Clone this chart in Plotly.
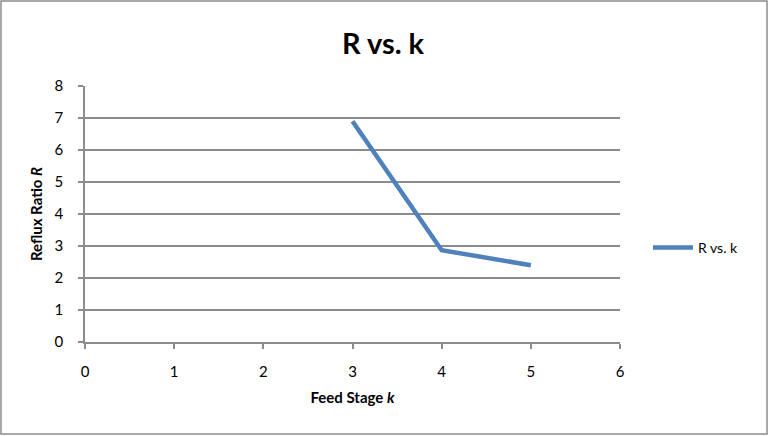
import plotly.graph_objects as go

feed_stage = [3, 4, 5]
reflux_ratio = [6.9, 2.87, 2.4]
series_name = "R vs. k"

W, H = 769, 436
ml, mr, mt, mb = 85, 149, 86, 94
pw, ph = W - ml - mr, H - mt - mb

font = "Lato, 'Open Sans', sans-serif"
grid = "#8c8c8c"

fig = go.Figure()
fig.add_trace(go.Scatter(
    x=feed_stage, y=reflux_ratio, mode="lines", name=series_name,
    line=dict(color="#4F81BD", width=4.5),
))

fig.update_layout(
    width=W, height=H,
    margin=dict(l=ml, r=mr, t=mt, b=mb),
    paper_bgcolor="white", plot_bgcolor="white",
    font=dict(family=font, size=15, color="black"),
    title=dict(text="<b>R vs. k</b>", x=(383) / W, xanchor="center",
               y=1 - 44 / H, yanchor="middle",
               font=dict(size=29, family=font)),
    showlegend=True,
    legend=dict(x=1 + (648 - 620) / pw, y=1 - (248 - mt) / ph, xanchor="left", yanchor="middle",
                font=dict(size=14), bgcolor="rgba(0,0,0,0)", itemwidth=40),
    xaxis=dict(range=[0, 6], dtick=1, tick0=0, showgrid=False, zeroline=False,
               showline=True, linecolor=grid, linewidth=1.5,
               ticks="outside", ticklen=5, tickcolor=grid, tickwidth=1.5,
               ticklabelstandoff=10,
               title=dict(text="<b>Feed Stage <i>k</i></b>", font=dict(size=15), standoff=14),
               tickfont=dict(size=15)),
    yaxis=dict(range=[0, 8], dtick=1, tick0=0, showgrid=True, gridcolor=grid, gridwidth=1.5,
               zeroline=False, showline=True, linecolor=grid, linewidth=1.5,
               ticks="outside", ticklen=5, tickcolor=grid, tickwidth=1.5,
               ticklabelstandoff=12,
               title=dict(text="<b>Reflux Ratio <i>R</i></b>", font=dict(size=15), standoff=8),
               tickfont=dict(size=15)),
)

fig.add_shape(type="rect", xref="paper", yref="paper",
              x0=(1 - ml) / pw, x1=(767 - ml) / pw,
              y0=1 - (434 - mt) / ph, y1=1 - (1 - mt) / ph,
              line=dict(color="#8c8c8c", width=1.5), layer="below")

fig.write_html("out.html")
